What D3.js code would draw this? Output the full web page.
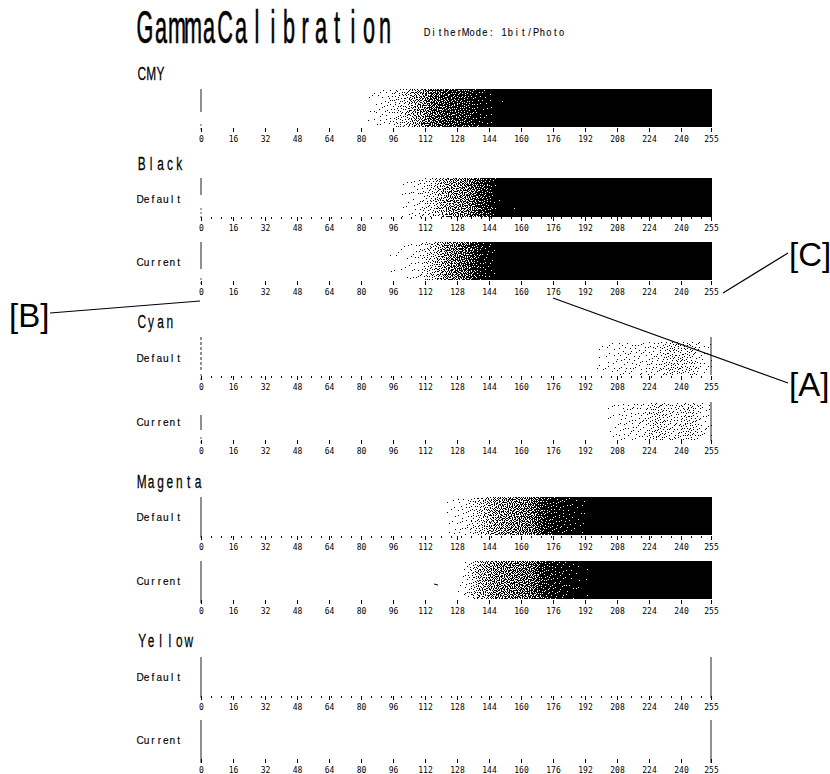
<!DOCTYPE html>
<html>
<head>
<meta charset="utf-8">
<script src="https://d3js.org/d3.v7.min.js"></script>
<style>
  html, body { margin: 0; background: #fff; }
  svg { display: block; }
  text { fill: #000; font-family: "Liberation Sans", Arial, sans-serif; }
</style>
</head>
<body>
<svg id="chart" width="830" height="774"></svg>
<script>
// gray level where each density step begins (one step = 8 levels)
const levelSteps = d3.range(0, 256, 8);

// share of dots printed per step
const zeros = n => new Array(n).fill(0);
const ones = n => new Array(n).fill(1);
const cmyDensity = [...zeros(10), .015, .06, .15, .38, .68, .8, .84, .95, .995, ...ones(13)];
const blackDefault = [...zeros(12), .012, .05, .17, .42, .52, .8, .99, ...ones(13)];
const blackCurrent = [...zeros(11), .004, .015, .05, .2, .5, .68, .92, .995, ...ones(13)];
const cyanDefault = [...zeros(24), .006, .035, .06, .06, .09, .17, .14, .035];
const cyanCurrent = [...zeros(25), .02, .06, .07, .17, .1, .17, .045];
const magentaDefault = [...zeros(15), .02, .06, .2, .42, .5, .58, .88, .93, .97, ...ones(8)];
const magentaCurrent = [...zeros(16), .05, .33, .5, .56, .62, .88, .94, .98, ...ones(8)];
const yellowDefault = zeros(32);
const yellowCurrent = zeros(32);

const tickLevels = [0, 16, 32, 48, 64, 80, 96, 112, 128, 144, 160, 176, 192, 208, 224, 240, 255];
const fineLevels = d3.range(5, 255, 5);
const strayLevels = [116.5];

const sections = ["CMY", "Black", "Cyan", "Magenta", "Yellow"];
const rowNames = ["", "Default", "Current", "Default", "Current", "Default", "Current", "Default", "Current"];
const rowDensity = [cmyDensity, blackDefault, blackCurrent, cyanDefault, cyanCurrent,
                    magentaDefault, magentaCurrent, yellowDefault, yellowCurrent];

// page layout, one entry per strip
const stripTop = [89, 178, 242, 342, 403, 497, 561, 657, 720];
const stripBottom = [127, 217, 280, 375, 440, 535, 599, 696, 759];
const axisY = [128, 217, 281, 376, 440, 536, 600, 696, 759];
const rowLabelY = [0, 203, 266, 362, 426, 521, 585, 681, 744];
const hasFineDots = [false, true, false, true, false, true, false, true, false];
const leftEdge = [[89, 112], [178, 195], [242, 269], [337, 370], [415, 430], [497, 538], [561, 603], [657, 698], [720, 763]];
const leftTail = [[124, 131], [208, 220], [278, 285], [374, 380], [437, 445], null, null, null, null];
const leftDash = [null, null, null, "3 2", null, null, null, null, null];
const rightEdge = [null, null, null, [337, 375], [402, 441], null, null, [657, 698], [720, 763]];
const sectionY = [80, 170, 328, 488, 647];

const x = d3.scaleLinear([0, 255], [201, 711]);
const svg = d3.select("#chart");

// scanned sheet: dots are a little soft
let defs = svg.append("defs");
defs.append("filter").attr("id", "scan")
	.attr("x", "-2%").attr("y", "-10%").attr("width", "104%").attr("height", "120%")
	.attr("color-interpolation-filters", "sRGB")
	.append("feGaussianBlur").attr("stdDeviation", 0.4);

// fixed screen value per pixel, keeps the dither from falling into a lattice
function screen(px, py, salt) {
	let h = Math.imul(px + salt, 0x9E3779B1);
	h ^= h >>> 15;
	h = Math.imul(h + py, 0xC2B2AE3D);
	h ^= h >>> 13;
	h = Math.imul(h + px, 0x27D4EB2F);
	h ^= h >>> 16;
	return (h >>> 0) / 4294967296;
}

// error diffusion with a screened threshold, the way the printer turns a density into 1bit dots
function ditherPath(density, top, bottom) {
	const p = d3.path();
	const left = Math.round(x(0)), right = Math.round(x(255));
	const w = right - left + 1;
	let err = new Float64Array(w + 2), next = new Float64Array(w + 2);
	for (let py = top; py < bottom; py++) {
		let runStart = null;
		for (let i = 0; i < w; i++) {
			const px = left + i;
			// step borders dissolve over a few pixels instead of ending on a straight edge
			const lookup = Math.max(0, Math.min(255, x.invert(px + (screen(px, py, 7) - 0.5) * 14)));
			const d = density[d3.bisectRight(levelSteps, lookup) - 1];
			const v = d + err[i + 1];
			const on = d > 0 && v >= 0.1 + 0.8 * screen(px, py, 91);
			if (d > 0) {
				const e = v - (on ? 1 : 0);
				err[i + 2] += e * 7 / 16;
				next[i] += e * 3 / 16;
				next[i + 1] += e * 5 / 16;
				next[i + 2] += e / 16;
			}
			if (on && runStart === null) runStart = px;
			if (!on && runStart !== null) {
				p.rect(runStart, py, px - runStart, 1);
				runStart = null;
			}
		}
		if (runStart !== null) p.rect(runStart, py, right + 1 - runStart, 1);
		err = next;
		next = new Float64Array(w + 2);
	}
	return p.toString();
}

// the sheet prints in fixed-width cells, so each glyph sits centred in its own cell
function cellText(parent, str, left, baseline, size, cell, squeeze, weight) {
	let t = parent.append("text")
		.attr("transform", `translate(${left},${baseline}) scale(${squeeze},1)`)
		.attr("font-size", size)
		.attr("stroke", "#000")
		.attr("stroke-width", weight)
		.text(str);
	let node = t.node();
	let xs = Array.from(str, (c, i) => {
		let w = node.getExtentOfChar(i).width;
		return ((i + 0.5) * cell) / squeeze - w / 2;
	});
	t.attr("x", xs.join(" "));
	return t;
}

cellText(svg, "GammaCalibration", 137, 43, 46, 16, 0.47, 0.7);
cellText(svg, "DitherMode: 1bit/Photo", 424, 36, 10.5, 6.4, 0.88, 0.1);

sections.forEach((s, i) => cellText(svg, s, 137, sectionY[i], 18, 9.4, 0.66, 0.25));

rowDensity.forEach((density, i) => {
	let g = svg.append("g");

	g.append("path")
		.attr("d", ditherPath(density, stripTop[i], stripBottom[i]))
		.attr("fill", "#000")
		.attr("filter", "url(#scan)");

	g.append("line")
		.attr("x1", x(0)).attr("x2", x(0))
		.attr("y1", leftEdge[i][0]).attr("y2", leftEdge[i][1])
		.attr("stroke", "#444")
		.attr("stroke-dasharray", leftDash[i])
		.attr("stroke-width", 1.2);

	if (leftTail[i]) {
		g.append("line")
			.attr("x1", x(0)).attr("x2", x(0))
			.attr("y1", leftTail[i][0]).attr("y2", leftTail[i][1])
			.attr("stroke", "#555")
			.attr("stroke-dasharray", "2 2");
	}

	if (rightEdge[i]) {
		g.append("line")
			.attr("x1", x(255)).attr("x2", x(255))
			.attr("y1", rightEdge[i][0]).attr("y2", rightEdge[i][1])
			.attr("stroke", "#222");
	}

	if (rowNames[i]) cellText(g, rowNames[i], 137, rowLabelY[i], 11, 6.4, 0.92, 0.15);

	let axis = d3.axisBottom(x)
		.tickValues(tickLevels)
		.tickFormat(d3.format("d"))
		.tickSize(4)
		.tickPadding(4);

	let axisG = g.append("g")
		.attr("transform", `translate(0,${axisY[i]})`)
		.call(axis);
	axisG.select(".domain").remove();
	axisG.selectAll("line").attr("stroke", "#000").attr("shape-rendering", "crispEdges");
	axisG.selectAll("text")
		.attr("font-size", 8)
		.style("font-family", "'DejaVu Sans Mono', monospace");

	if (hasFineDots[i]) {
		let fine = g.append("g")
			.attr("transform", `translate(0,${axisY[i]})`)
			.call(d3.axisBottom(x).tickValues(fineLevels).tickFormat("").tickSize(2));
		fine.select(".domain").remove();
		fine.selectAll("line").attr("stroke", "#000").attr("shape-rendering", "crispEdges");
	}
});

svg.selectAll(".stray").data(strayLevels).join("line")
	.attr("class", "stray")
	.attr("x1", d => x(d))
	.attr("x2", d => x(d) + 4)
	.attr("y1", 584).attr("y2", 585)
	.attr("stroke", "#000");

// callouts
const callouts = [
	{ name: "[A]", tx: 789, ty: 396, line: [553, 298, 788, 383] },
	{ name: "[B]", tx: 9, ty: 327, line: [50, 313, 200, 301] },
	{ name: "[C]", tx: 789, ty: 266, line: [723, 293, 788, 253] }
];
svg.selectAll(".callout-line").data(callouts).join("line")
	.attr("class", "callout-line")
	.attr("x1", d => d.line[0]).attr("y1", d => d.line[1])
	.attr("x2", d => d.line[2]).attr("y2", d => d.line[3])
	.attr("stroke", "#000")
	.attr("stroke-width", 1.2);
svg.selectAll(".callout").data(callouts).join("text")
	.attr("class", "callout")
	.attr("x", d => d.tx).attr("y", d => d.ty)
	.attr("font-size", 33)
	.text(d => d.name);
</script>
</body>
</html>
